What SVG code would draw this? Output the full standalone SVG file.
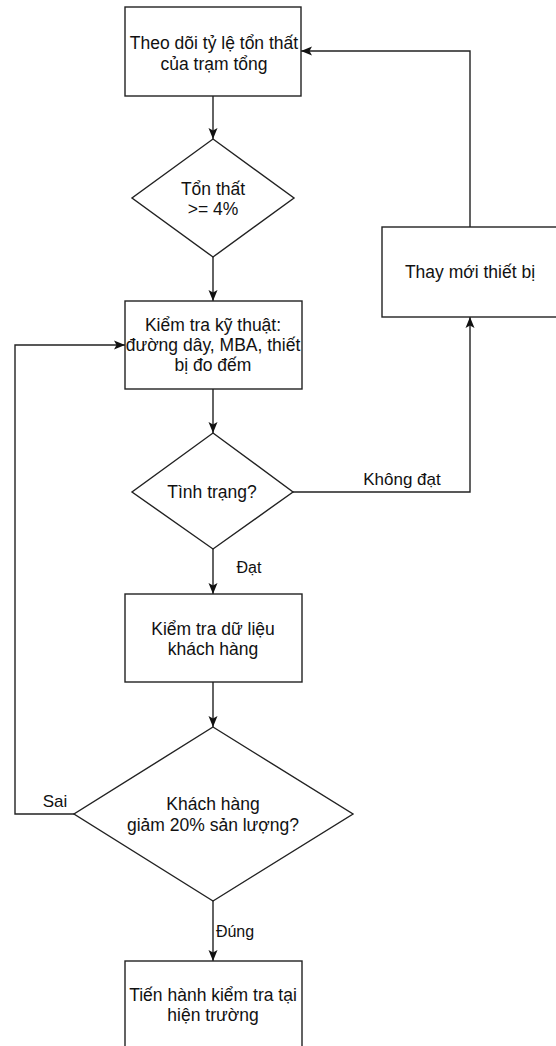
<svg xmlns="http://www.w3.org/2000/svg" width="556" height="1046" viewBox="0 0 556 1046">
<defs>
<marker id="arr" markerWidth="12" markerHeight="10" refX="11" refY="5" orient="auto" markerUnits="userSpaceOnUse">
<path d="M0,0.5 L11,5 L0,9.5 L2.5,5 Z" fill="#111"/>
</marker>
<style>
.n{fill:#fff;stroke:#222;stroke-width:1.4}
.e{fill:none;stroke:#222;stroke-width:1.4;marker-end:url(#arr)}
.l{fill:none;stroke:#222;stroke-width:1.4}
text{font-family:"Liberation Sans",Arial,sans-serif;font-size:17.5px;fill:#111;text-anchor:middle}
.lb{font-size:16px}
</style>
</defs>
<rect width="556" height="1046" fill="#fff"/>
<g id="connectors">
<line class="e" x1="213" y1="96" x2="213" y2="139"/>
<line class="e" x1="213" y1="257" x2="213" y2="301"/>
<line class="e" x1="213" y1="389" x2="213" y2="433"/>
<line class="e" x1="213" y1="549" x2="213" y2="594"/>
<line class="e" x1="213" y1="682" x2="213" y2="727"/>
<line class="e" x1="213" y1="901" x2="213" y2="961"/>
<polyline class="e" points="293,492 470,492 470,317"/>
<polyline class="e" points="470,227 470,51 301,51"/>
<polyline class="e" points="74,814 15,814 15,345 125,345"/>
<text class="lb" x="402" y="485" style="font-size:17px">Không đạt</text>
<text class="lb" x="249" y="573">Đạt</text>
<text class="lb" x="55" y="807" style="font-size:17px">Sai</text>
<text class="lb" x="235" y="937">Đúng</text>
</g>
<g id="n1">
<rect class="n" x="125" y="7" width="176" height="89"/>
<text x="214" y="49">Theo dõi tỷ lệ tổn thất</text>
<text x="214" y="70">của trạm tổng</text>
</g>
<g id="n2">
<polygon class="n" points="213,139 294,198 213,257 132,198"/>
<text x="213" y="195">Tổn thất</text>
<text x="213" y="215">&gt;= 4%</text>
</g>
<g id="n3">
<rect class="n" x="125" y="301" width="177" height="88"/>
<text x="213" y="331">Kiểm tra kỹ thuật:</text>
<text x="213" y="351">đường dây, MBA, thiết</text>
<text x="213" y="371">bị đo đếm</text>
</g>
<g id="n4">
<polygon class="n" points="213,433 293,492 213,549 132,492"/>
<text x="212" y="498">Tình trạng?</text>
</g>
<g id="n5">
<rect class="n" x="382" y="227" width="180" height="90"/>
<text x="470" y="278">Thay mới thiết bị</text>
</g>
<g id="n6">
<rect class="n" x="125" y="594" width="177" height="88"/>
<text x="213" y="635">Kiểm tra dữ liệu</text>
<text x="213" y="655">khách hàng</text>
</g>
<g id="n7">
<polygon class="n" points="213,727 353,814 213,901 74,814"/>
<text x="213" y="810">Khách hàng</text>
<text x="213" y="831">giảm 20% sản lượng?</text>
</g>
<g id="n8">
<rect class="n" x="125" y="961" width="177" height="100"/>
<text x="213" y="1001">Tiến hành kiểm tra tại</text>
<text x="213" y="1021">hiện trường</text>
</g>
</svg>
